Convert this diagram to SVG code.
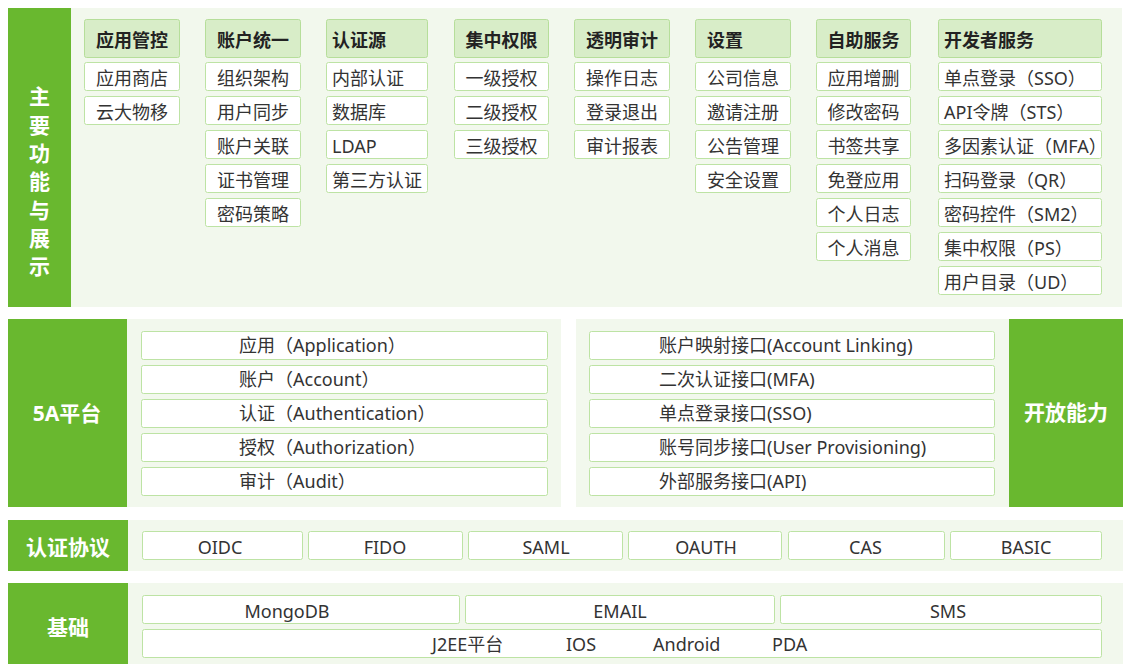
<svg xmlns="http://www.w3.org/2000/svg" width="1123" height="664" viewBox="0 0 1123 664">
<style>
.bg{fill:#ffffff}
.bar{fill:#69b82f}
.panel{fill:#f2f8ed}
.hd{fill:#d8edc8;stroke:#b6de9a;stroke-width:1}
.it{fill:#ffffff;stroke:#bde3a4;stroke-width:1}
text{font-family:"Noto Sans","Noto Sans CJK SC",sans-serif;font-size:18px;fill:#333333}
.th{font-weight:bold;fill:#222222}
.tw{fill:#ffffff;font-size:21px;font-weight:bold}
.c{text-anchor:middle}
</style>
<rect class="bg" x="0" y="0" width="1123" height="664"/>

<!-- Top section -->
<g id="top-panel">
<rect class="panel" x="8" y="8" width="1114" height="299"/>
<rect class="bar" x="8" y="8" width="63" height="299"/>
<text class="tw c"><tspan x="39.5" y="104">主</tspan><tspan x="39.5" y="132.5">要</tspan><tspan x="39.5" y="161">功</tspan><tspan x="39.5" y="189">能</tspan><tspan x="39.5" y="217.5">与</tspan><tspan x="39.5" y="246">展</tspan><tspan x="39.5" y="274">示</tspan></text>
</g>

<g id="col-app">
<rect class="hd" x="84.5" y="19.5" width="95" height="38" rx="2"/>
<text class="th c" x="132" y="46.5">应用管控</text>
<rect class="it" x="84.5" y="62.5" width="95" height="28" rx="2"/>
<text class="c" x="132" y="85">应用商店</text>
<rect class="it" x="84.5" y="96.5" width="95" height="28" rx="2"/>
<text class="c" x="132" y="119">云大物移</text>
</g>

<g id="col-account">
<rect class="hd" x="205.5" y="19.5" width="95" height="38" rx="2"/>
<text class="th c" x="253" y="46.5">账户统一</text>
<rect class="it" x="205.5" y="62.5" width="95" height="28" rx="2"/>
<text class="c" x="253" y="85">组织架构</text>
<rect class="it" x="205.5" y="96.5" width="95" height="28" rx="2"/>
<text class="c" x="253" y="119">用户同步</text>
<rect class="it" x="205.5" y="130.5" width="95" height="28" rx="2"/>
<text class="c" x="253" y="153">账户关联</text>
<rect class="it" x="205.5" y="164.5" width="95" height="28" rx="2"/>
<text class="c" x="253" y="187">证书管理</text>
<rect class="it" x="205.5" y="198.5" width="95" height="28" rx="2"/>
<text class="c" x="253" y="221">密码策略</text>
</g>

<g id="col-authsrc">
<rect class="hd" x="326.5" y="19.5" width="101" height="38" rx="2"/>
<text class="th" x="332" y="46.5">认证源</text>
<rect class="it" x="326.5" y="62.5" width="101" height="28" rx="2"/>
<text x="332" y="85">内部认证</text>
<rect class="it" x="326.5" y="96.5" width="101" height="28" rx="2"/>
<text x="332" y="119">数据库</text>
<rect class="it" x="326.5" y="130.5" width="101" height="28" rx="2"/>
<text x="332" y="153">LDAP</text>
<rect class="it" x="326.5" y="164.5" width="101" height="28" rx="2"/>
<text x="332" y="187">第三方认证</text>
</g>

<g id="col-perm">
<rect class="hd" x="454.5" y="19.5" width="94" height="38" rx="2"/>
<text class="th c" x="501.5" y="46.5">集中权限</text>
<rect class="it" x="454.5" y="62.5" width="94" height="28" rx="2"/>
<text class="c" x="501.5" y="85">一级授权</text>
<rect class="it" x="454.5" y="96.5" width="94" height="28" rx="2"/>
<text class="c" x="501.5" y="119">二级授权</text>
<rect class="it" x="454.5" y="130.5" width="94" height="28" rx="2"/>
<text class="c" x="501.5" y="153">三级授权</text>
</g>

<g id="col-audit">
<rect class="hd" x="574.5" y="19.5" width="95" height="38" rx="2"/>
<text class="th c" x="622" y="46.5">透明审计</text>
<rect class="it" x="574.5" y="62.5" width="95" height="28" rx="2"/>
<text class="c" x="622" y="85">操作日志</text>
<rect class="it" x="574.5" y="96.5" width="95" height="28" rx="2"/>
<text class="c" x="622" y="119">登录退出</text>
<rect class="it" x="574.5" y="130.5" width="95" height="28" rx="2"/>
<text class="c" x="622" y="153">审计报表</text>
</g>

<g id="col-settings">
<rect class="hd" x="695.5" y="19.5" width="95" height="38" rx="2"/>
<text class="th" x="707" y="46.5">设置</text>
<rect class="it" x="695.5" y="62.5" width="95" height="28" rx="2"/>
<text class="c" x="743" y="85">公司信息</text>
<rect class="it" x="695.5" y="96.5" width="95" height="28" rx="2"/>
<text class="c" x="743" y="119">邀请注册</text>
<rect class="it" x="695.5" y="130.5" width="95" height="28" rx="2"/>
<text class="c" x="743" y="153">公告管理</text>
<rect class="it" x="695.5" y="164.5" width="95" height="28" rx="2"/>
<text class="c" x="743" y="187">安全设置</text>
</g>

<g id="col-self">
<rect class="hd" x="816.5" y="19.5" width="94" height="38" rx="2"/>
<text class="th c" x="863.5" y="46.5">自助服务</text>
<rect class="it" x="816.5" y="62.5" width="94" height="28" rx="2"/>
<text class="c" x="863.5" y="85">应用增删</text>
<rect class="it" x="816.5" y="96.5" width="94" height="28" rx="2"/>
<text class="c" x="863.5" y="119">修改密码</text>
<rect class="it" x="816.5" y="130.5" width="94" height="28" rx="2"/>
<text class="c" x="863.5" y="153">书签共享</text>
<rect class="it" x="816.5" y="164.5" width="94" height="28" rx="2"/>
<text class="c" x="863.5" y="187">免登应用</text>
<rect class="it" x="816.5" y="198.5" width="94" height="28" rx="2"/>
<text class="c" x="863.5" y="221">个人日志</text>
<rect class="it" x="816.5" y="232.5" width="94" height="28" rx="2"/>
<text class="c" x="863.5" y="255">个人消息</text>
</g>

<g id="col-dev">
<rect class="hd" x="938.5" y="19.5" width="163" height="38" rx="2"/>
<text class="th" x="944" y="46.5">开发者服务</text>
<rect class="it" x="938.5" y="62.5" width="163" height="28" rx="2"/>
<text x="944" y="85">单点登录（SSO）</text>
<rect class="it" x="938.5" y="96.5" width="163" height="28" rx="2"/>
<text x="944" y="119">API令牌（STS）</text>
<rect class="it" x="938.5" y="130.5" width="163" height="28" rx="2"/>
<text x="944" y="153">多因素认证（MFA）</text>
<rect class="it" x="938.5" y="164.5" width="163" height="28" rx="2"/>
<text x="944" y="187">扫码登录（QR）</text>
<rect class="it" x="938.5" y="198.5" width="163" height="28" rx="2"/>
<text x="944" y="221">密码控件（SM2）</text>
<rect class="it" x="938.5" y="232.5" width="163" height="28" rx="2"/>
<text x="944" y="255">集中权限（PS）</text>
<rect class="it" x="938.5" y="266.5" width="163" height="28" rx="2"/>
<text x="944" y="289">用户目录（UD）</text>
</g>

<!-- 5A platform -->
<g id="platform-5a">
<rect class="panel" x="127" y="319" width="434" height="188"/>
<rect class="bar" x="8" y="319" width="119" height="188"/>
<text class="tw c" x="67" y="421">5A平台</text>
<rect class="it" x="141.5" y="331.5" width="406" height="28" rx="2"/>
<text x="239" y="352">应用（Application）</text>
<rect class="it" x="141.5" y="365.5" width="406" height="28" rx="2"/>
<text x="239" y="386">账户（Account）</text>
<rect class="it" x="141.5" y="399.5" width="406" height="28" rx="2"/>
<text x="239" y="420">认证（Authentication）</text>
<rect class="it" x="141.5" y="433.5" width="406" height="28" rx="2"/>
<text x="239" y="454">授权（Authorization）</text>
<rect class="it" x="141.5" y="467.5" width="406" height="28" rx="2"/>
<text x="239" y="488">审计（Audit）</text>
</g>

<!-- Open capabilities -->
<g id="open-capability">
<rect class="panel" x="576" y="319" width="433" height="188"/>
<rect class="bar" x="1009" y="319" width="114" height="188"/>
<text class="tw c" x="1066" y="420">开放能力</text>
<rect class="it" x="589.5" y="331.5" width="405" height="28" rx="2"/>
<text x="659" y="352">账户映射接口(Account Linking)</text>
<rect class="it" x="589.5" y="365.5" width="405" height="28" rx="2"/>
<text x="659" y="386">二次认证接口(MFA)</text>
<rect class="it" x="589.5" y="399.5" width="405" height="28" rx="2"/>
<text x="659" y="420">单点登录接口(SSO)</text>
<rect class="it" x="589.5" y="433.5" width="405" height="28" rx="2"/>
<text x="659" y="454">账号同步接口(User Provisioning)</text>
<rect class="it" x="589.5" y="467.5" width="405" height="28" rx="2"/>
<text x="659" y="488">外部服务接口(API)</text>
</g>

<!-- Protocols -->
<g id="protocols">
<rect class="panel" x="128" y="520" width="995" height="51"/>
<rect class="bar" x="8" y="520" width="120" height="51"/>
<text class="tw c" x="68" y="555">认证协议</text>
<rect class="it" x="142.5" y="531.5" width="160" height="28" rx="2"/>
<text class="c" x="220" y="554">OIDC</text>
<rect class="it" x="308.5" y="531.5" width="154" height="28" rx="2"/>
<text class="c" x="385" y="554">FIDO</text>
<rect class="it" x="468.5" y="531.5" width="154" height="28" rx="2"/>
<text class="c" x="546" y="554">SAML</text>
<rect class="it" x="628.5" y="531.5" width="153" height="28" rx="2"/>
<text class="c" x="706" y="554">OAUTH</text>
<rect class="it" x="788.5" y="531.5" width="156" height="28" rx="2"/>
<text class="c" x="865.5" y="554">CAS</text>
<rect class="it" x="950.5" y="531.5" width="151" height="28" rx="2"/>
<text class="c" x="1026" y="554">BASIC</text>
</g>

<!-- Foundation -->
<g id="foundation">
<rect class="panel" x="128" y="583" width="995" height="81"/>
<rect class="bar" x="8" y="583" width="120" height="81"/>
<text class="tw c" x="68" y="635">基础</text>
<rect class="it" x="142.5" y="595.5" width="317" height="28" rx="2"/>
<text class="c" x="287" y="618">MongoDB</text>
<rect class="it" x="465.5" y="595.5" width="309" height="28" rx="2"/>
<text class="c" x="620" y="618">EMAIL</text>
<rect class="it" x="780.5" y="595.5" width="321" height="28" rx="2"/>
<text class="c" x="948" y="618">SMS</text>
<rect class="it" x="142.5" y="629.5" width="959" height="28" rx="2"/>
<text x="432" y="651">J2EE平台</text>
<text x="566" y="651">IOS</text>
<text x="653" y="651">Android</text>
<text x="772" y="651">PDA</text>
</g>

<g id="connectors"/>
</svg>
